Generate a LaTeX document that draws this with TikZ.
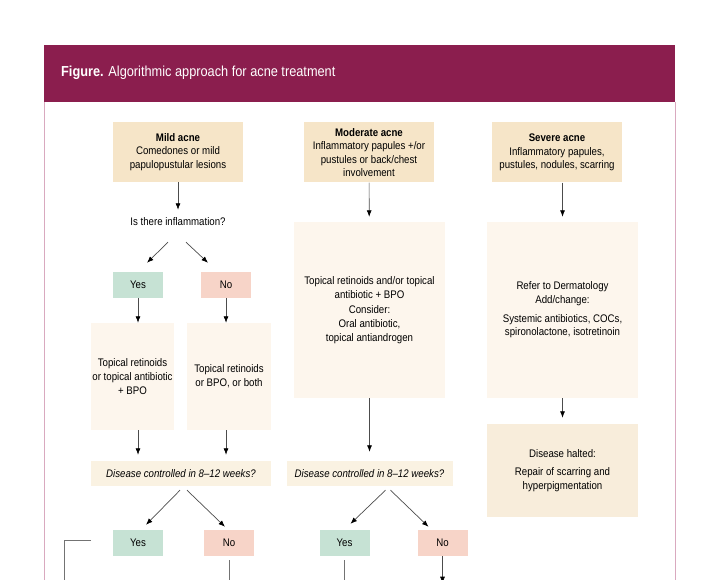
\documentclass[tikz,border=0pt]{standalone}
\usepackage{fontspec}
\setmainfont[FakeStretch=0.88]{Liberation Sans}
\usetikzlibrary{arrows.meta}

\definecolor{headplum}{RGB}{139,30,78}
\definecolor{rimpink}{RGB}{217,169,191}
\definecolor{acnetan}{RGB}{246,229,200}
\definecolor{acnepale}{RGB}{253,246,237}
\definecolor{ctrlfill}{RGB}{250,242,226}
\definecolor{haltfill}{RGB}{248,237,219}
\definecolor{yesfill}{RGB}{198,226,212}
\definecolor{nofill}{RGB}{247,212,200}

\tikzset{
  boxtext/.style={font=\fontsize{11}{13.6}\selectfont, align=center, inner sep=0pt},
  stagebox/.style={boxtext, fill=acnetan, minimum width=130pt, minimum height=60pt},
  treatbox/.style={boxtext, fill=acnepale},
  ctrlbox/.style={boxtext, fill=ctrlfill, minimum height=25pt, font=\fontsize{11}{13.6}\selectfont\itshape},
  yesbox/.style={boxtext, fill=yesfill, minimum width=50pt, minimum height=26pt},
  nobox/.style={boxtext, fill=nofill, minimum width=50pt, minimum height=26pt},
  arr/.style={draw=black!70, line width=0.7pt, -{Latex[length=6.5pt,width=5pt,color=black]}},
  plain/.style={draw=black!55, line width=0.8pt}
}

\begin{document}
\begin{tikzpicture}[x=1pt,y=-1pt]
  \useasboundingbox (0,0) rectangle (720,580);

  % frame and heading band
  \fill[headplum] (44,45) rectangle (675,102);
  \draw[rimpink, line width=0.8pt] (44.5,102) -- (44.5,580);
  \draw[rimpink, line width=0.8pt] (675,102) -- (675,580);
  \node[anchor=west, text=white, inner sep=0pt, font=\fontsize{14.5}{17}\selectfont] (title) at (61,73)
    {\textbf{Figure.} Algorithmic approach for acne treatment};

  % mild acne column
  \node[stagebox] (mild) at (178,152) {\textbf{Mild acne}\\Comedones or mild\\papulopustular lesions};
  \node[boxtext, minimum height=20pt] (quest) at (178,222) {Is there inflammation?};
  \node[yesbox] (yesA) at (138,285) {Yes};
  \node[nobox] (noA) at (226,285) {No};
  \node[treatbox, minimum width=83pt, minimum height=107pt] (retA) at (132.5,376.5)
    {Topical retinoids\\or topical antibiotic\\+ BPO};
  \node[treatbox, minimum width=84pt, minimum height=107pt] (retB) at (229,376.5)
    {Topical retinoids\\or BPO, or both};
  \node[ctrlbox, minimum width=180pt] (ctrlA) at (181,473.5) {Disease controlled in 8--12 weeks?};
  \node[yesbox] (yesB) at (138,543) {Yes};
  \node[nobox] (noB) at (229,543) {No};

  % moderate acne column
  \node[stagebox] (moder) at (369,152.5) {\textbf{Moderate acne}\\Inflammatory papules +/or\\pustules or back/chest\\involvement};
  \node[treatbox, minimum width=151pt, minimum height=176pt] (retC) at (369.5,310)
    {Topical retinoids and/or topical\\antibiotic + BPO\\[2pt]Consider:\\Oral antibiotic,\\topical antiandrogen};
  \node[ctrlbox, minimum width=166pt] (ctrlB) at (369.5,473.5) {Disease controlled in 8--12 weeks?};
  \node[yesbox] (yesC) at (344.5,543) {Yes};
  \node[nobox] (noC) at (442.5,543) {No};

  % severe acne column
  \node[stagebox] (sever) at (557,152.5) {\textbf{Severe acne}\\Inflammatory papules,\\pustules, nodules, scarring};
  \node[treatbox, minimum width=151pt, minimum height=176pt] (refer) at (562.5,310)
    {Refer to Dermatology\\Add/change:\\[5pt]Systemic antibiotics, COCs,\\spironolactone, isotretinoin};
  \node[boxtext, fill=haltfill, minimum width=151pt, minimum height=93pt] (halt) at (562.5,470.5)
    {Disease halted:\\[5pt]Repair of scarring and\\hyperpigmentation};

  % connectors, mild
  \draw[arr, shorten >=2pt] (mild) -- (quest);
  \draw[arr] ([xshift=-10pt,yshift=-10pt]quest.south) -- ([xshift=9pt,yshift=9pt]yesA.north);
  \draw[arr] ([xshift=8pt,yshift=-10pt]quest.south) -- ([xshift=-18pt,yshift=9pt]noA.north);
  \draw[arr] (yesA.south -| yesA) -- (yesA.south |- retA.north);
  \draw[arr] (noA.south) -- (noA.south |- retB.north);
  \draw[arr, shorten >=6pt] (yesA.south |- retA.south) -- (yesA.south |- ctrlA.north);
  \draw[arr, shorten >=6pt] (noA.south |- retB.south) -- (noA.south |- ctrlA.north);
  \draw[arr] ([xshift=-1pt,yshift=-4pt]ctrlA.south) -- ([xshift=8pt,yshift=5pt]yesB.north);
  \draw[arr] ([xshift=6pt,yshift=-4pt]ctrlA.south) -- ([xshift=-4pt,yshift=3pt]noB.north);

  % connectors, moderate
  \draw[arr, shorten >=5pt] (moder) -- (retC);
  \draw[arr, shorten >=9pt] (retC) -- (ctrlB);
  \draw[arr] ([xshift=16pt,yshift=-4pt]ctrlB.south) -- ([xshift=6pt,yshift=6pt]yesC.north);
  \draw[arr] ([xshift=21pt,yshift=-4pt]ctrlB.south) -- ([xshift=-14pt,yshift=3pt]noC.north);

  % connectors, severe
  \draw[arr, shorten >=5pt] (sever.south -| refer) -- (refer.north);
  \draw[arr, shorten >=6pt] (refer) -- (halt);

  % lines running on below
  \coordinate (loopA) at (91,540);
  \coordinate (loopB) at (64,580);
  \draw[plain] (loopA) -- (loopA -| loopB) -- (loopB);
  \draw[plain] ([yshift=-4pt]noB.south) -- ++(0,30);
  \draw[plain] ([yshift=-4pt]yesC.south) -- ++(0,30);
  \draw[arr] (noC.south) -- ++(0,27);
\end{tikzpicture}
\end{document}
